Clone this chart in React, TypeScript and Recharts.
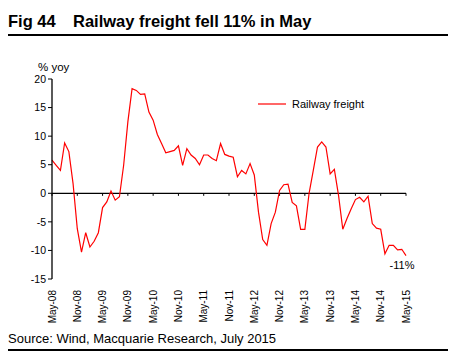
import { LineChart, Line, XAxis, YAxis, ReferenceLine, ReferenceDot } from "recharts";

// monthly % yoy, May-08 .. May-15
const VALUES = [
  5.8, 4.9, 4.0, 8.8, 7.3, 1.7, -6.2, -10.3, -6.9, -9.4, -8.4, -6.9, -2.5, -1.5, 0.4, -1.2, -0.6,
  4.9, 12.5, 18.3, 18.0, 17.3, 17.4, 14.2, 12.8, 10.3, 8.7, 7.1, 7.3, 7.5, 8.3, 4.9, 7.8, 6.7,
  6.1, 5.0, 6.7, 6.7, 6.1, 5.7, 8.7, 6.8, 6.5, 6.3, 2.9, 4.0, 3.4, 5.2, 3.2, -3.3, -8.1, -9.1,
  -5.3, -3.3, 0.5, 1.5, 1.6, -1.6, -2.2, -6.3, -6.3, 0.0, 4.0, 8.1, 9.0, 8.1, 3.4, 4.2, -0.4,
  -6.3, -4.4, -2.7, -1.1, -0.7, -1.5, -0.5, -5.3, -6.1, -6.3, -10.6, -9.1, -9.1, -9.9, -9.8, -10.9,
];

const TICK_LABELS = [
  "May-08", "Nov-08", "May-09", "Nov-09", "May-10", "Nov-10", "May-11", "Nov-11",
  "May-12", "Nov-12", "May-13", "Nov-13", "May-14", "Nov-14", "May-15",
];

const Y_TICKS = [-15, -10, -5, 0, 5, 10, 15, 20];

const data = VALUES.map((v, i) => ({ i, v }));
const xTicks = TICK_LABELS.map((_, k) => k * 6);

const FONT = "'Liberation Sans', Arial, sans-serif";

const XTick = (props: any) => {
  const { x, y, payload } = props;
  return (
    <text
      x={x}
      y={y}
      transform={`rotate(-90, ${x}, ${y})`}
      textAnchor="end"
      dy="0.35em"
      fontSize={10}
      fontFamily={FONT}
      fill="#000"
    >
      {TICK_LABELS[payload.value / 6]}
    </text>
  );
};

export default function App() {
  return (
    <div style={{ position: "absolute", left: 0, top: 0, width: 456, height: 361, background: "#fff", fontFamily: FONT }}>
      <div style={{ position: "absolute", left: 8, top: 12, fontSize: 16.5, fontWeight: "bold", whiteSpace: "nowrap" }}>Fig 44</div>
      <div style={{ position: "absolute", left: 73, top: 12, fontSize: 16.5, fontWeight: "bold", whiteSpace: "nowrap" }}>
        Railway freight fell 11% in May
      </div>
      <div style={{ position: "absolute", left: 8, top: 34, width: 440, height: 2, background: "#000" }} />
      <div style={{ position: "absolute", left: 38, top: 61, fontSize: 11.5, whiteSpace: "nowrap" }}>% yoy</div>

      <LineChart
        width={456}
        height={361}
        data={data}
        margin={{ top: 79, right: 50, bottom: 42, left: 0 }}
        style={{ position: "absolute", left: 0, top: 0 }}
      >
        <XAxis
          dataKey="i"
          type="number"
          domain={[0, 84]}
          ticks={xTicks}
          interval={0}
          axisLine={false}
          tickLine={false}
          tick={<XTick />}
          tickMargin={5}
          height={40}
        />
        <YAxis
          domain={[-15, 20]}
          ticks={Y_TICKS}
          interval={0}
          width={52}
          axisLine={{ stroke: "#000", strokeWidth: 1.3 }}
          tickLine={{ stroke: "#000" }}
          tickSize={4}
          tick={{ fill: "#000", fontSize: 10.5, fontFamily: FONT }}
        />
        <ReferenceLine y={0} stroke="#000" strokeWidth={1.3} />
        {xTicks.map((t) => (
          <ReferenceLine
            key={t}
            segment={[{ x: t, y: 0 }, { x: t, y: -0.45 }]}
            stroke="#000"
            strokeWidth={1}
          />
        ))}
        <Line
          type="linear"
          dataKey="v"
          stroke="#ff0000"
          strokeWidth={1.2}
          dot={false}
          isAnimationActive={false}
        />
        <ReferenceDot
          x={84}
          y={VALUES[VALUES.length - 1]}
          r={0}
          fill="none"
          stroke="none"
          label={{ value: "-11%", position: "bottom", dx: -4, offset: 6, fill: "#000", fontSize: 11, fontFamily: FONT }}
        />
      </LineChart>

      <div style={{ position: "absolute", left: 258, top: 98, display: "flex", alignItems: "center", fontSize: 11, whiteSpace: "nowrap" }}>
        <svg width={30} height={10}>
          <line x1={0} y1={5} x2={28} y2={5} stroke="#ff0000" strokeWidth={1.2} />
        </svg>
        <span style={{ marginLeft: 4 }}>Railway freight</span>
      </div>

      <div style={{ position: "absolute", left: 8, top: 331, fontSize: 13, whiteSpace: "nowrap" }}>
        Source: Wind, Macquarie Research, July 2015
      </div>
      <div style={{ position: "absolute", left: 8, top: 349, width: 440, height: 2, background: "#000" }} />
    </div>
  );
}
